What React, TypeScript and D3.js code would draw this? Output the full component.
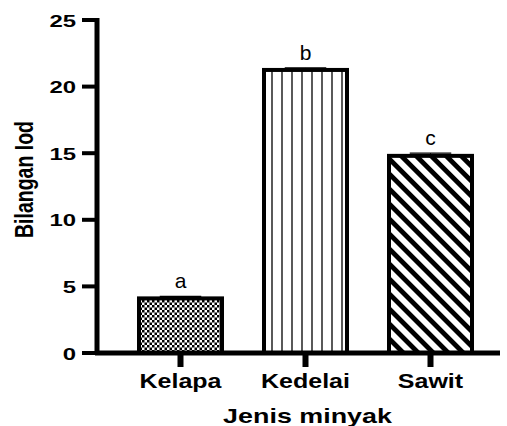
import React from 'react';
import * as d3 from 'd3';

const categories = ['Kelapa', 'Kedelai', 'Sawit'];
const values = [4.1, 21.25, 14.8];
const errors = [0.15, 0.15, 0.2];
const letters = ['a', 'b', 'c'];
const yTicks = [0, 5, 10, 15, 20, 25];
const patterns = ['checker', 'vlines', 'diag'];

export default function App() {
  const width = 507;
  const height = 426;
  const margin = { top: 20, right: 7, bottom: 73, left: 97 };
  const innerW = width - margin.left - margin.right;
  const innerH = height - margin.top - margin.bottom;

  const x = d3.scaleBand()
    .domain(categories)
    .range([0, innerW])
    .paddingInner(0.336)
    .paddingOuter(0.28)
    .align(0.6);

  const y = d3.scaleLinear()
    .domain([0, 25])
    .range([innerH, 0]);

  const font = 'Arial, "Liberation Sans", sans-serif';

  return (
    <svg width={width} height={height} style={{ position: 'absolute', left: 0, top: 0 }}>
      <defs>
        <pattern id="checker" width="5" height="5" patternUnits="userSpaceOnUse">
          <rect width="5" height="5" fill="#fff" />
          <rect width="2.5" height="2.5" fill="#000" />
          <rect x="2.5" y="2.5" width="2.5" height="2.5" fill="#000" />
        </pattern>
        <pattern id="vlines" width="10" height="10" patternUnits="userSpaceOnUse">
          <rect width="10" height="10" fill="#fff" />
          <line x1="5" y1="0" x2="5" y2="10" stroke="#000" strokeWidth="1.3" />
        </pattern>
        <pattern id="diag" width="10.6" height="10.6" patternUnits="userSpaceOnUse" patternTransform="rotate(-45)">
          <rect width="10.6" height="10.6" fill="#fff" />
          <rect x="0" y="0" width="4.8" height="10.6" fill="#000" />
        </pattern>
      </defs>
      <g transform={`translate(${margin.left},${margin.top})`}>
        {categories.map((c, i) => {
          const bx = x(c) as number;
          const bw = x.bandwidth();
          const cx = bx + bw / 2;
          const top = y(values[i]);
          const errTop = y(values[i] + errors[i]);
          return (
            <g key={c}>
              <rect x={bx} y={top} width={bw} height={innerH - top}
                fill={`url(#${patterns[i]})`} stroke="#000" strokeWidth={4} />
              <line x1={cx} x2={cx} y1={top} y2={errTop} stroke="#000" strokeWidth={1} />
              <line x1={bx + bw * 0.25} x2={bx + bw * 0.75} y1={errTop} y2={errTop} stroke="#000" strokeWidth={1.3} />
              <text x={cx} y={errTop - 8} textAnchor="middle"
                fontFamily={font} fontSize={21}>{letters[i]}</text>
              <text transform={`translate(${cx},${innerH + 35}) scale(1.25,1)`} textAnchor="middle"
                fontFamily={font} fontSize={20} fontWeight="bold">{c}</text>
            </g>
          );
        })}
        <line x1={0} x2={0} y1={-2} y2={innerH + 2} stroke="#000" strokeWidth={5} />
        <line x1={-2} x2={innerW} y1={innerH} y2={innerH} stroke="#000" strokeWidth={5} />
        {categories.map(c => {
          const cx = (x(c) as number) + x.bandwidth() / 2;
          return <rect key={c} x={cx - 3} y={innerH} width={6} height={14} fill="#000" />;
        })}
        {yTicks.map(t => (
          <g key={t} transform={`translate(0,${y(t)})`}>
            <line x1={-15} x2={0} stroke="#000" strokeWidth={4} />
            <text transform={`translate(-21,0) scale(1.45,1)`} dy="0.4em" textAnchor="end" fontFamily={font}
              fontSize={16.5} fontWeight="bold">{t}</text>
          </g>
        ))}
        <text transform={`translate(${-64},${innerH / 2 - 7}) scale(1.3,1) rotate(-90)`} textAnchor="middle"
          fontFamily={font} fontSize={19.5} fontWeight="bold">Bilangan Iod</text>
        <text transform={`translate(${210.5},${innerH + 70}) scale(1.28,1)`} textAnchor="middle"
          fontFamily={font} fontSize={21} fontWeight="bold">Jenis minyak</text>
      </g>
    </svg>
  );
}
